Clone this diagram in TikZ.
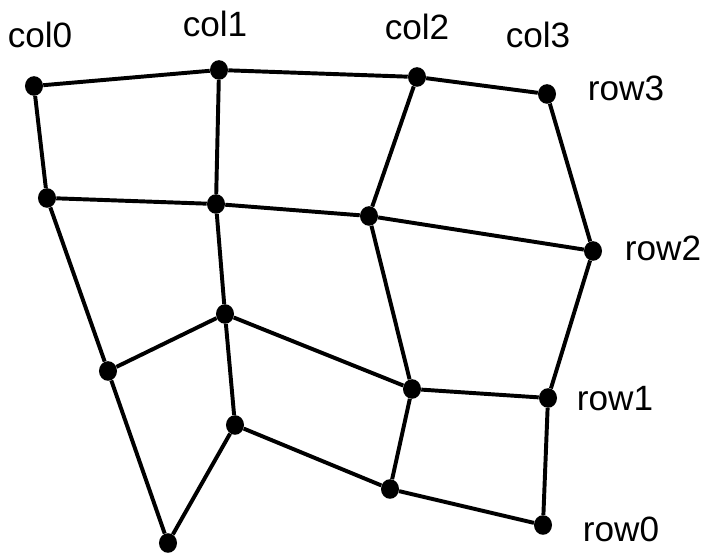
\documentclass[tikz,border=0pt]{standalone}
\usepackage{fontspec}
\setmainfont{Liberation Sans}
\usetikzlibrary{shapes.geometric, positioning}

\begin{document}
\begin{tikzpicture}[
                x=0.025cm, y=-0.025cm,
                pt/.style={ellipse, fill=black, inner sep=0pt, minimum width=0.45cm, minimum height=0.49cm},
                lbl/.style={font=\fontsize{25}{29}\selectfont, inner sep=0pt},
                edge/.style={line width=2.8pt}
            ]%
            \useasboundingbox (0,0) rectangle (705,556);
            %
            % Punkte, Zeile 3
            \node[pt] (p03) at (34,86) {};
            \node[pt] (p13) at (219,70) {};
            \node[pt] (p23) at (417,77) {};
            \node[pt] (p33) at (547,94) {};
            %
            % Punkte, Zeile 2
            \node[pt] (p02) at (47,198) {};
            \node[pt] (p12) at (216,204) {};
            \node[pt] (p22) at (369,216) {};
            \node[pt] (p32) at (593,251) {};
            %
            % Punkte, Zeile 1
            \node[pt] (p01) at (108,371) {};
            \node[pt] (p11) at (225,314) {};
            \node[pt] (p21) at (412,389) {};
            \node[pt] (p31) at (548,398) {};
            %
            % Punkte, Zeile 0
            \node[pt] (p00) at (168,543) {};
            \node[pt] (p10) at (235,425) {};
            \node[pt] (p20) at (390,489) {};
            \node[pt] (p30) at (543,525) {};
            %
            % Zeilen
            \draw[edge] (p03) -- (p13) -- (p23) -- (p33);
            \draw[edge] (p02) -- (p12) -- (p22) -- (p32);
            \draw[edge] (p01) -- (p11) -- (p21) -- (p31);
            \draw[edge] (p00) -- (p10) -- (p20) -- (p30);
            %
            % Spalten
            \draw[edge] (p03) -- (p02) -- (p01) -- (p00);
            \draw[edge] (p13) -- (p12) -- (p11) -- (p10);
            \draw[edge] (p23) -- (p22) -- (p21) -- (p20);
            \draw[edge] (p33) -- (p32) -- (p31) -- (p30);
            %
            % Beschriftungen
            \node[lbl] (c0) at (40,35) {col0};
            \node[lbl] (c1) at (215,24) {col1};
            \node[lbl] (c2) at (417,27) {col2};
            \node[lbl] (c3) at (538,35) {col3};
            \node[lbl] (r3) at (626,88) {row3};
            \node[lbl] (r2) at (663,248) {row2};
            \node[lbl] (r1) at (615,399) {row1};
            \node[lbl] (r0) at (621,529) {row0};
        \end{tikzpicture}
\end{document}
